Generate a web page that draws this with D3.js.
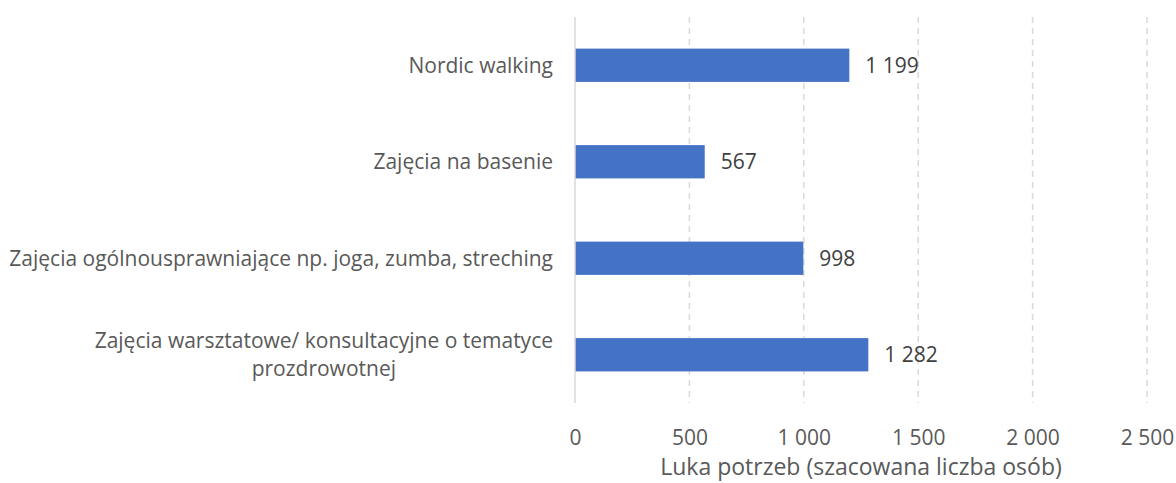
<!DOCTYPE html>
<meta charset="utf-8">
<style>
body { margin: 0; background: #fff; }
text { font-family: "Open Sans", sans-serif; fill: #595959; }
</style>
<svg width="1176" height="483"></svg>
<script src="https://d3js.org/d3.v7.min.js"></script>
<script>
const categories = [
  ["Nordic walking"],
  ["Zajęcia na basenie"],
  ["Zajęcia ogólnousprawniające np. joga, zumba, streching"],
  ["Zajęcia warsztatowe/ konsultacyjne o tematyce", "prozdrowotnej"]
];
const values = [1199, 567, 998, 1282];
const ticks = [0, 500, 1000, 1500, 2000, 2500];
const axisTitle = "Luka potrzeb (szacowana liczba osób)";

const svg = d3.select("svg");
const margin = {left: 575, right: 29, top: 17, bottom: 80};
const width = 1176, height = 483;

const pl = d3.formatLocale({decimal: ",", thousands: "\u00a0", grouping: [3], currency: ["", " zł"]});
const fmt = pl.format(",d");

const x = d3.scaleLinear().domain([0, 2500]).range([margin.left, width - margin.right]);
const y = d3.scaleBand()
  .domain(d3.range(categories.length))
  .range([margin.top, height - margin.bottom])
  .paddingInner(0.655)
  .paddingOuter(0.3275);

// grid
svg.append("g")
  .selectAll("line")
  .data(ticks.filter(t => t > 0))
  .join("line")
  .attr("x1", d => x(d)).attr("x2", d => x(d))
  .attr("y1", margin.top).attr("y2", height - margin.bottom)
  .attr("stroke", "#d9d9d9")
  .attr("stroke-width", 1.5)
  .attr("stroke-dasharray", "6,5");

// bars
svg.append("g")
  .selectAll("rect")
  .data(values)
  .join("rect")
  .attr("x", x(0))
  .attr("y", (d, i) => y(i))
  .attr("width", d => x(d) - x(0))
  .attr("height", y.bandwidth())
  .attr("fill", "#4472c4");

// axis line at zero
svg.append("line")
  .attr("x1", x(0)).attr("x2", x(0))
  .attr("y1", margin.top).attr("y2", height - margin.bottom)
  .attr("stroke", "#d9d9d9")
  .attr("stroke-width", 1.5);

// value labels
svg.append("g")
  .selectAll("text")
  .data(values)
  .join("text")
  .attr("x", d => x(d) + 16)
  .attr("y", (d, i) => y(i) + y.bandwidth() / 2)
  .attr("dy", "0.35em")
  .attr("font-size", 21)
  .style("fill", "#404040")
  .text(d => fmt(d));

// category labels
const labelRight = 553;
const cat = svg.append("g")
  .selectAll("text")
  .data(categories)
  .join("text")
  .attr("font-size", 21)
  .attr("text-anchor", "middle");
cat.each(function(lines, i) {
  const t = d3.select(this);
  const cy = y(i) + y.bandwidth() / 2;
  const lh = 28;
  const y0 = cy - (lines.length - 1) * lh / 2;
  lines.forEach((l, j) => {
    t.append("tspan").attr("y", y0 + j * lh).attr("dy", "0.35em").text(l);
  });
  // right-align block, center lines within it
  const tsp = t.selectAll("tspan").nodes();
  const w = d3.max(tsp, n => n.getComputedTextLength());
  tsp.forEach(n => d3.select(n).attr("x", labelRight - w / 2));
});

// x tick labels
const xAxis = d3.axisBottom(x).tickValues(ticks).tickSize(0).tickFormat(fmt);
const gx = svg.append("g")
  .attr("transform", `translate(0,${height - margin.bottom + 24})`)
  .call(xAxis);
gx.select(".domain").remove();
gx.selectAll("text")
  .attr("font-size", 21)
  .attr("font-family", null)
  .attr("fill", "#595959");

svg.append("text")
  .attr("x", (x(0) + x(2500)) / 2)
  .attr("y", 467)
  .attr("dy", "0.35em")
  .attr("text-anchor", "middle")
  .attr("font-size", 23)
  .text(axisTitle);
</script>
